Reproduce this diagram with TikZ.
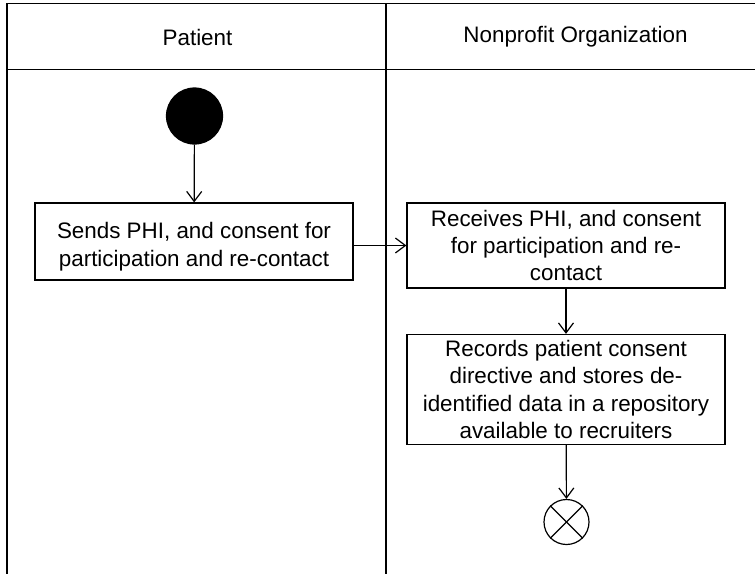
\documentclass[tikz,border=0pt]{standalone}
\usepackage{fontspec}
\setmainfont{Liberation Sans}
\usetikzlibrary{arrows.meta}
\begin{document}
\begin{tikzpicture}[x=0.5pt,y=-0.5pt,
  line width=0.6pt,
  every node/.style={font=\fontsize{11.2}{13.4}\selectfont},
  actbox/.style={draw,rectangle,minimum width=159pt,align=center,inner sep=0pt},
  boxtext/.style={align=center,inner sep=0pt},
  flow/.style={-{Straight Barb[length=5pt,width=7.5pt]}},
  lanetitle/.style={inner sep=0pt}]
\useasboundingbox (0,0) rectangle (755,573);
% swimlane frame
\coordinate (tl) at (7,3.5);
\coordinate (tr) at (760,3.5);
\coordinate (hl) at (7,69.5);
\coordinate (hr) at (760,69.5);
\coordinate (bl) at (7,580);
\coordinate (mt) at (386,3.5);
\coordinate (mb) at (386,580);
\draw (bl) -- (tl) -- (tr);
\draw (hl) -- (hr);
\draw (mt) -- (mb);
\node[lanetitle] (patient) at (197.5,37) {Patient};
\node[lanetitle] (npo) at (575.5,37) {Nonprofit Organization};
% nodes
\node[circle,fill=black,draw=black,minimum size=28pt,inner sep=0pt] (start) at (194.5,116) {};
\node[actbox,minimum height=38.5pt] (b1) at (194,241.5) {};
\node[boxtext,font=\fontsize{11.2}{14}\selectfont] (b1t) at (194,247) {Sends PHI, and consent for\\participation and re-contact};
\node[actbox,minimum height=42.5pt] (b2) at (566,245.5) {Receives PHI, and consent\\for participation and re-\\contact};
\node[actbox,minimum height=55pt,font=\fontsize{11.2}{13.7}\selectfont] (b3) at (566,389.5) {Records patient consent\\directive and stores de-\\identified data in a repository\\available to recruiters};
\node[circle,draw,minimum size=22.5pt,inner sep=0pt] (end) at (566.5,522) {};
\draw (end.north west) -- (end.south east);
\draw (end.north east) -- (end.south west);
% connectors
\draw[flow] (start) -- (b1);
\draw[flow] (b1.east |- b2.west) -- (b2.west);
\draw[flow] (b2) -- (b3);
\draw[flow] (b3) -- (end);
\end{tikzpicture}
\end{document}
